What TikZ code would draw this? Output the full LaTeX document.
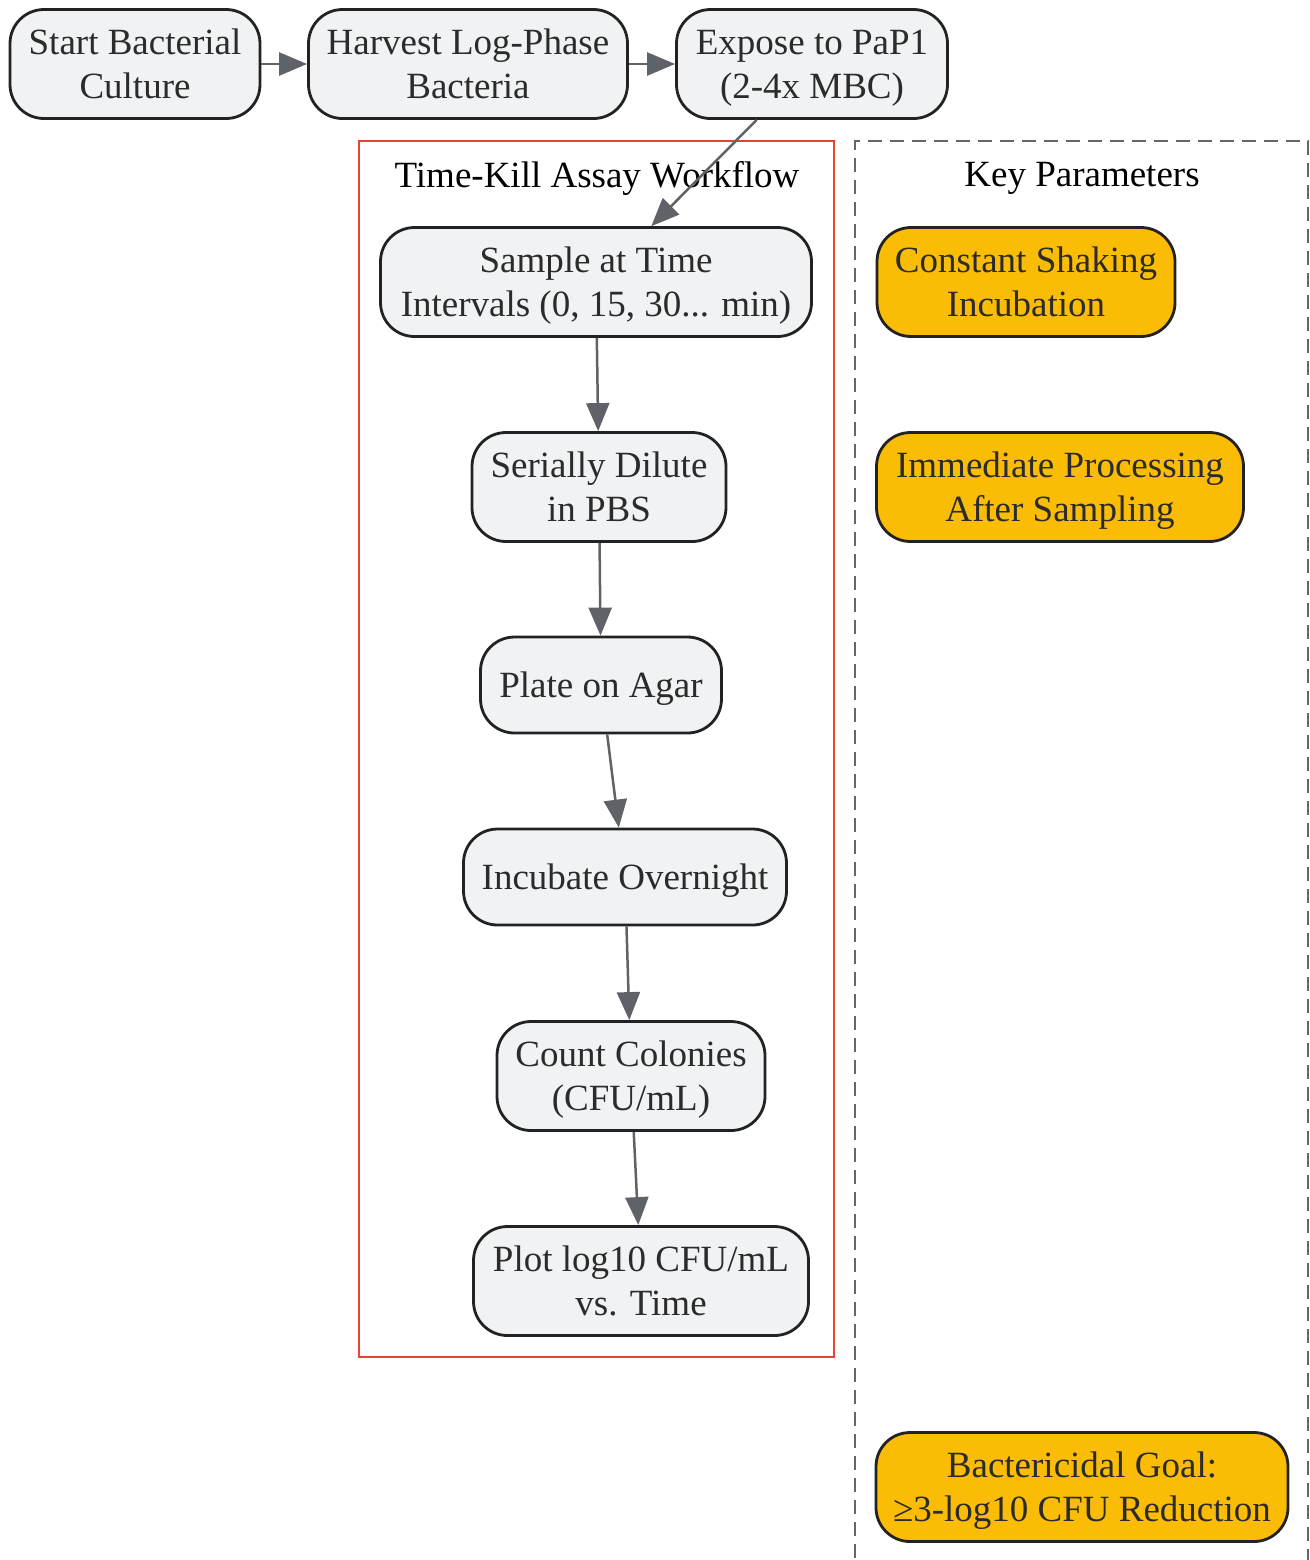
\documentclass[tikz,border=0pt]{standalone}
\usepackage{fontspec}
\setmainfont{Liberation Serif}
\usetikzlibrary{positioning,arrows.meta}

\definecolor{stepfill}{HTML}{F1F2F4}
\definecolor{stepline}{HTML}{222222}
\definecolor{keyfill}{HTML}{FBBC05}
\definecolor{flowgray}{HTML}{5F6368}
\definecolor{assayred}{HTML}{EA4335}
\definecolor{paramgray}{HTML}{666666}
\definecolor{txt}{HTML}{2B2B2B}

\begin{document}
\begin{tikzpicture}[x=0.5pt,y=-0.5pt]
	\tikzset{stepbox/.style={draw=stepline,fill=stepfill,line width=1.4pt,rounded corners=17pt,
			minimum height=54.5pt,inner sep=0pt,align=center,text=txt,text depth=0pt,
			font=\fontsize{18.5}{22}\selectfont},
		keybox/.style={stepbox,fill=keyfill},
		flow/.style={color=flowgray,line width=1.25pt,-{Triangle[length=14pt,width=11.5pt]}},
		grouptitle/.style={font=\fontsize{18.5}{22}\selectfont,text=black}}
	\useasboundingbox (0,0) rectangle (1310,1560);

	%% clusters
	\draw[assayred,line width=1.2pt] (359,141) rectangle (834,1357);
	\node[grouptitle] (assay) at (597,178) {Time-Kill Assay Workflow};
	\draw[paramgray,line width=1.1pt,dash pattern=on 7pt off 4pt] (855,1580) -- (855,141) -- (1308,141) -- (1308,1580);
	\node[grouptitle] (params) at (1082,178) {Key Parameters};

	%% preparation
	\node[stepbox,minimum width=125pt] (start) at (135,64) {Start Bacterial\\Culture};
	\node[stepbox,minimum width=159.5pt] (harvest) at (468,64) {Harvest Log-Phase\\Bacteria};
	\node[stepbox,minimum width=135.5pt] (expose) at (812,64) {Expose to PaP1\\(2-4x MBC)};

	%% workflow
	\node[stepbox,minimum width=215.5pt] (sample) at (596,282) {Sample at Time\\Intervals (0, 15, 30... min)};
	\node[stepbox,minimum width=127pt] (dilute) at (599,487) {Serially Dilute\\in PBS};
	\node[stepbox,minimum width=120.5pt,minimum height=48pt] (plate) at (601,685) {Plate on Agar};
	\node[stepbox,minimum width=161.5pt,minimum height=48pt] (incubate) at (625,877) {Incubate Overnight};
	\node[stepbox,minimum width=134pt] (count) at (631,1076) {Count Colonies\\(CFU/mL)};
	\node[stepbox,minimum width=167.5pt] (plot) at (641,1281) {Plot log10 CFU/mL\\vs. Time};

	%% parameters
	\node[keybox,minimum width=149pt] (shaking) at (1026,282) {Constant Shaking\\Incubation};
	\node[keybox,minimum width=183.5pt] (immediate) at (1060,487) {Immediate Processing\\After Sampling};
	\node[keybox,minimum width=206pt] (goal) at (1082,1487) {Bactericidal Goal:\\≥3-log10 CFU Reduction};

	\path[flow]
		(start) edge (harvest)
		(harvest) edge (expose)
		(expose) edge (sample)
		(sample) edge (dilute)
		(dilute) edge (plate)
		(plate) edge (incubate)
		(incubate) edge (count)
		(count) edge (plot);
\end{tikzpicture}
\end{document}
